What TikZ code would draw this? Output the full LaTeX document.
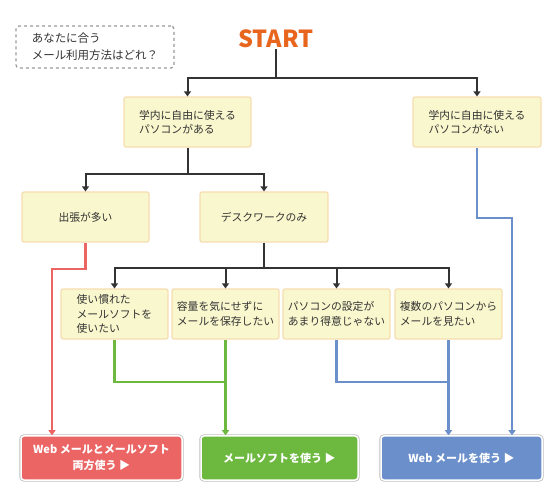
\documentclass[tikz,border=0pt]{standalone}
\usepackage{fontspec}
\setmainfont{Noto Sans CJK JP}
\usetikzlibrary{arrows.meta}
\definecolor{startorange}{HTML}{E8651E}
\definecolor{qfill}{HTML}{F9F7CD}
\definecolor{qline}{HTML}{F6DDB0}
\definecolor{ink}{HTML}{333333}
\definecolor{flowred}{HTML}{EB6565}
\definecolor{flowgreen}{HTML}{6DB940}
\definecolor{flowblue}{HTML}{6A8FCA}
\tikzset{
  qbox/.style={draw=qline, fill=qfill, line width=1.2pt, rounded corners=2pt,
    text=ink, align=left, minimum height=50pt, inner sep=0pt,
    font=\fontsize{10.8}{14.5}\selectfont},
  endbox/.style={fill=#1, draw=white, line width=1.5pt, rounded corners=3pt,
    preaction={draw=gray!50, line width=3.2pt},
    minimum width=161pt, minimum height=44pt, text=white, align=center,
    font=\bfseries\fontsize{11}{16}\selectfont},
  arr/.style={-{Triangle[width=7pt,length=5pt]}},
  blackflow/.style={draw=ink, line width=2pt},
  colflow/.style={draw=#1, line width=2.6pt, {Triangle[width=7pt,length=5pt,fill=#1]}-},
}
\begin{document}
\begin{tikzpicture}[x=1pt,y=-1pt]
\useasboundingbox (0,0) rectangle (558,500);

% note and start
\node[draw=gray!80, dashed, line width=1.2pt, rounded corners=3pt, text=ink,
  align=left, minimum width=158pt, minimum height=42pt,
  font=\fontsize{11.5}{17}\selectfont] (note) at (95,47)
  {あなたに合う\\メール利用方法はどれ？};
\node[text=startorange, font=\bfseries\fontsize{23.5}{24}\selectfont, inner sep=1pt] (start) at (276,39) {START};

% questions
\node[qbox, minimum width=127pt] (campusyes) at (187.5,122) {学内に自由に使える\\パソコンがある};
\node[qbox, minimum width=128pt] (campusno) at (477,122) {学内に自由に使える\\パソコンがない};
\node[qbox, minimum width=127pt] (trip) at (85.5,217) {出張が多い};
\node[qbox, minimum width=128pt] (desk) at (264,217) {デスクワークのみ};
\node[qbox, minimum width=107pt] (habit) at (114.5,314) {使い慣れた\\メールソフトを\\使いたい};
\node[qbox, minimum width=107pt] (storage) at (225.5,314) {容量を気にせずに\\メールを保存したい};
\node[qbox, minimum width=107pt] (setup) at (336.5,314) {パソコンの設定が\\あまり得意じゃない};
\node[qbox, minimum width=107pt] (multi) at (448.5,314) {複数のパソコンから\\メールを見たい};

% answers
\node[endbox=flowred] (both) at (101.5,458) {Web メールとメールソフト\\両方使う ▶};
\node[endbox=flowgreen, minimum width=157pt] (soft) at (279.5,458) {メールソフトを使う ▶};
\node[endbox=flowblue] (web) at (461.5,458) {Web メールを使う ▶};

% junctions
\coordinate (j1) at (276,78);
\coordinate (j2) at (187.5,174);
\coordinate (j3) at (264,268);
\coordinate (rbend) at (52,269);
\coordinate (gj) at (225.5,382);
\coordinate (bj) at (448.5,382);
\coordinate (bbend) at (512,218);

% black connectors
\draw[blackflow] (start) -- (j1);
\draw[blackflow, arr] (j1) -| (campusyes);
\draw[blackflow, arr] (j1) -| (campusno);
\draw[blackflow] (campusyes) -- (j2);
\draw[blackflow, arr] (j2) -| (trip);
\draw[blackflow, arr] (j2) -| (desk);
\draw[blackflow] (desk) -- (j3);
\draw[blackflow, arr] (j3) -| (habit);
\draw[blackflow, arr] (j3) -| (storage);
\draw[blackflow, arr] (j3) -| (setup);
\draw[blackflow, arr] (j3) -| (multi);

% coloured connectors
\draw[colflow=flowred] (rbend |- both.north) -- (rbend) -| (trip);
\draw[draw=flowgreen, line width=2.6pt] (habit) |- (gj);
\draw[colflow=flowgreen] (storage |- soft.north) -- (storage);
\draw[draw=flowblue, line width=2.6pt] (setup) |- (bj);
\draw[colflow=flowblue] (multi |- web.north) -- (multi);
\draw[colflow=flowblue] (bbend |- web.north) -- (bbend) -| (campusno);
\end{tikzpicture}
\end{document}
